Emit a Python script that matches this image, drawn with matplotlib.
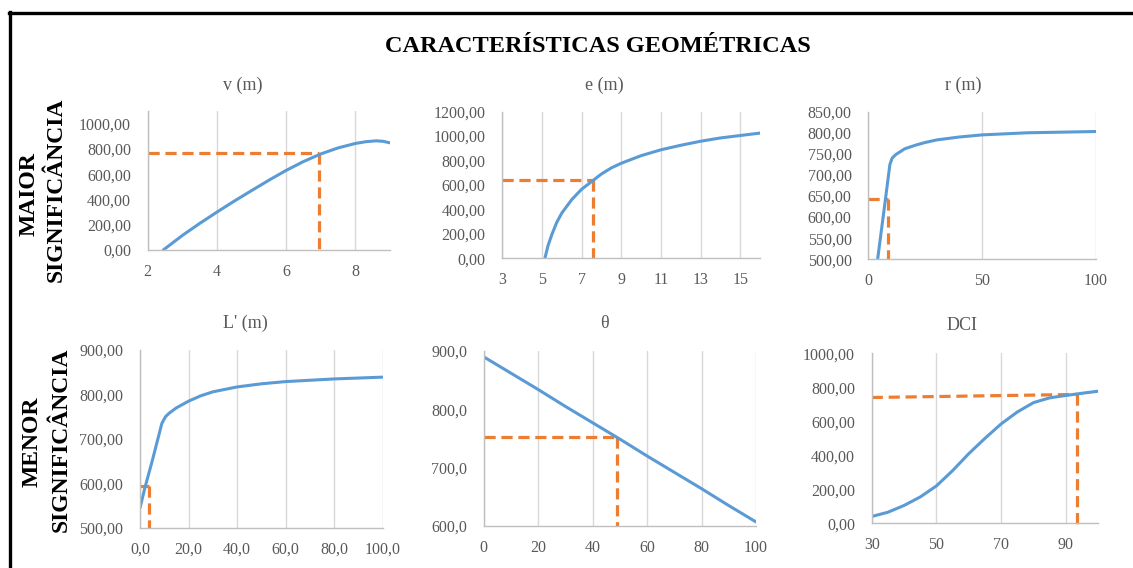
import matplotlib
matplotlib.use("Agg")
import matplotlib.pyplot as plt
from matplotlib.lines import Line2D
from matplotlib.ticker import FuncFormatter, MultipleLocator

plt.rcParams['font.family'] = ['Liberation Serif', 'DejaVu Serif']

W, H = 1133, 568

# v (m)
v_x = [2.45, 3, 3.5, 4, 4.5, 5, 5.5, 6, 6.5, 7, 7.5, 8, 8.3, 8.6, 8.8, 9]
v_y = [0, 115, 210, 300, 387, 470, 552, 630, 700, 760, 808, 843, 857, 864, 860, 848]
v_ref = (6.96, 765)

# e (m)
e_x = [5.15, 5.3, 5.5, 5.75, 6, 6.5, 7, 7.6, 8, 8.5, 9, 10, 11, 12, 13, 14, 15, 16]
e_y = [0, 100, 195, 295, 370, 480, 565, 640, 690, 740, 778, 840, 888, 925, 958, 985, 1005, 1025]
e_ref = (7.56, 640)

# r (m)
r_x = [4.1, 7, 9.5, 10.5, 12, 14, 16, 21, 25, 30, 40, 50, 70, 100]
r_y = [500, 620, 725, 740, 748, 755, 762, 771, 777, 783, 790, 795, 800, 803]
r_ref = (8.7, 642)

# L' (m)
l_x = [0, 2, 5, 9, 10.5, 12, 15, 20, 25, 30, 40, 50, 60, 80, 100]
l_y = [545, 590, 650, 735, 750, 758, 770, 785, 797, 806, 817, 824, 829, 835, 839]
l_ref = (3.6, 595)

# theta
t_x = [0, 10, 20, 30, 40, 50, 60, 70, 80, 90, 100]
t_y = [890, 862, 834, 805, 777, 749, 720, 692, 664, 635, 607]
t_ref = (49, 752)

# DCI
d_x = [30, 35, 40, 45, 50, 55, 60, 65, 70, 75, 80, 85, 90, 95, 100]
d_y = [40, 65, 105, 155, 220, 310, 410, 500, 585, 655, 710, 738, 752, 765, 777]
d_ref_h = ([30, 93.5], [740, 758])
d_ref_x = 93.5

BLUE = '#5b9bd5'
ORANGE = '#ed7d31'
GRAY_TXT = '#595959'

fig = plt.figure(figsize=(W / 100, H / 100), dpi=100)


def make_ax(left, right, top, bottom, title, title_xy):
    ax = fig.add_axes([left / W, 1 - bottom / H, (right - left) / W, (bottom - top) / H])
    for s in ['top', 'right']:
        ax.spines[s].set_visible(False)
    for s in ['left', 'bottom']:
        ax.spines[s].set_color('#bfbfbf')
        ax.spines[s].set_linewidth(1.0)
    ax.tick_params(length=0, labelsize=11.5, labelcolor=GRAY_TXT)
    ax.tick_params(axis='x', pad=10)
    ax.tick_params(axis='y', pad=12)
    ax.grid(axis='x', color='#d9d9d9', lw=1.0)
    ax.set_axisbelow(True)
    fig.text(title_xy[0] / W, 1 - title_xy[1] / H, title, ha='center', va='center',
             fontsize=13, color=GRAY_TXT)
    return ax


def fmt(dec):
    return FuncFormatter(lambda v, p: f"{v:.{dec}f}".replace('.', ','))


dash = dict(color=ORANGE, lw=2.3, ls=(0, (3.5, 1.8)), solid_capstyle='butt')
line = dict(color=BLUE, lw=2.2, solid_joinstyle='round', solid_capstyle='round')

# panel v
ax = make_ax(147.7, 390, 111, 250, 'v (m)', (243, 85))
ax.set_xlim(2, 9)
ax.set_ylim(0, 1100)
ax.xaxis.set_major_locator(MultipleLocator(2))
ax.set_yticks([0, 200, 400, 600, 800, 1000])
ax.yaxis.set_major_formatter(fmt(2))
ax.plot([2, v_ref[0]], [v_ref[1], v_ref[1]], **dash)
ax.plot([v_ref[0], v_ref[0]], [v_ref[1], 0], **dash)
ax.plot(v_x, v_y, **line)

# panel e
ax = make_ax(502.3, 760, 111.7, 258.3, 'e (m)', (604, 85))
ax.set_xlim(3, 16)
ax.set_ylim(0, 1200)
ax.set_xticks([3, 5, 7, 9, 11, 13, 15])
ax.yaxis.set_major_locator(MultipleLocator(200))
ax.yaxis.set_major_formatter(fmt(2))
ax.plot([3, e_ref[0]], [e_ref[1], e_ref[1]], **dash)
ax.plot([e_ref[0], e_ref[0]], [e_ref[1], 0], **dash)
ax.plot(e_x, e_y, **line)

# panel r
ax = make_ax(868.3, 1095.7, 111.7, 259.3, 'r (m)', (963, 85))
ax.set_xlim(0, 100)
ax.set_ylim(500, 850)
ax.xaxis.set_major_locator(MultipleLocator(50))
ax.yaxis.set_major_locator(MultipleLocator(50))
ax.yaxis.set_major_formatter(fmt(2))
ax.plot([0, r_ref[0]], [r_ref[1], r_ref[1]], **dash)
ax.plot([r_ref[0], r_ref[0]], [r_ref[1], 500], **dash)
ax.plot(r_x, r_y, **line)

# panel L'
ax = make_ax(140, 382.7, 350, 528, "L' (m)", (245, 323))
ax.set_xlim(0, 100)
ax.set_ylim(500, 900)
ax.xaxis.set_major_locator(MultipleLocator(20))
ax.yaxis.set_major_locator(MultipleLocator(100))
ax.xaxis.set_major_formatter(fmt(1))
ax.yaxis.set_major_formatter(fmt(2))
ax.plot([0, l_ref[0]], [l_ref[1], l_ref[1]], **dash)
ax.plot([l_ref[0], l_ref[0]], [l_ref[1], 500], **dash)
ax.plot(l_x, l_y, **line)

# panel theta
ax = make_ax(483.7, 756, 351, 526, 'θ', (604, 323))
ax.set_xlim(0, 100)
ax.set_ylim(600, 900)
ax.xaxis.set_major_locator(MultipleLocator(20))
ax.yaxis.set_major_locator(MultipleLocator(100))
ax.yaxis.set_major_formatter(fmt(1))
ax.plot([0, t_ref[0]], [t_ref[1], t_ref[1]], **dash)
ax.plot([t_ref[0], t_ref[0]], [t_ref[1], 600], **dash)
ax.plot(t_x, t_y, **line)

# panel DCI
ax = make_ax(871.7, 1098.3, 353.3, 523.3, 'DCI', (962, 325))
ax.set_xlim(30, 100)
ax.set_ylim(0, 1000)
ax.set_xticks([30, 50, 70, 90])
ax.yaxis.set_major_locator(MultipleLocator(200))
ax.yaxis.set_major_formatter(fmt(2))
ax.plot(d_ref_h[0], d_ref_h[1], **dash)
ax.plot([d_ref_x, d_ref_x], [d_ref_h[1][1], -20], clip_on=False, **dash)
ax.plot(d_x, d_y, **line)

# title and row labels
fig.text(598 / W, 1 - 47 / H, 'CARACTERÍSTICAS GEOMÉTRICAS', ha='center', va='center',
         fontsize=17.5, fontweight='bold', color='black')
fig.text(29 / W, 1 - 194 / H, 'MAIOR', rotation=90, ha='center', va='center',
         fontsize=17, fontweight='bold')
fig.text(56 / W, 1 - 190 / H, 'SIGNIFICÂNCIA', rotation=90, ha='center', va='center',
         fontsize=17, fontweight='bold')
fig.text(32 / W, 1 - 442 / H, 'MENOR', rotation=90, ha='center', va='center',
         fontsize=17, fontweight='bold')
fig.text(61 / W, 1 - 440 / H, 'SIGNIFICÂNCIA', rotation=90, ha='center', va='center',
         fontsize=17, fontweight='bold')

# frame border (top and left visible)
fig.add_artist(Line2D([9 / W, 1], [1 - 12.5 / H, 1 - 12.5 / H], color='black', lw=2.4))
fig.add_artist(Line2D([10.5 / W, 10.5 / W], [0, 1 - 11.5 / H], color='black', lw=2.4))

fig.savefig('out.png', dpi=100)
